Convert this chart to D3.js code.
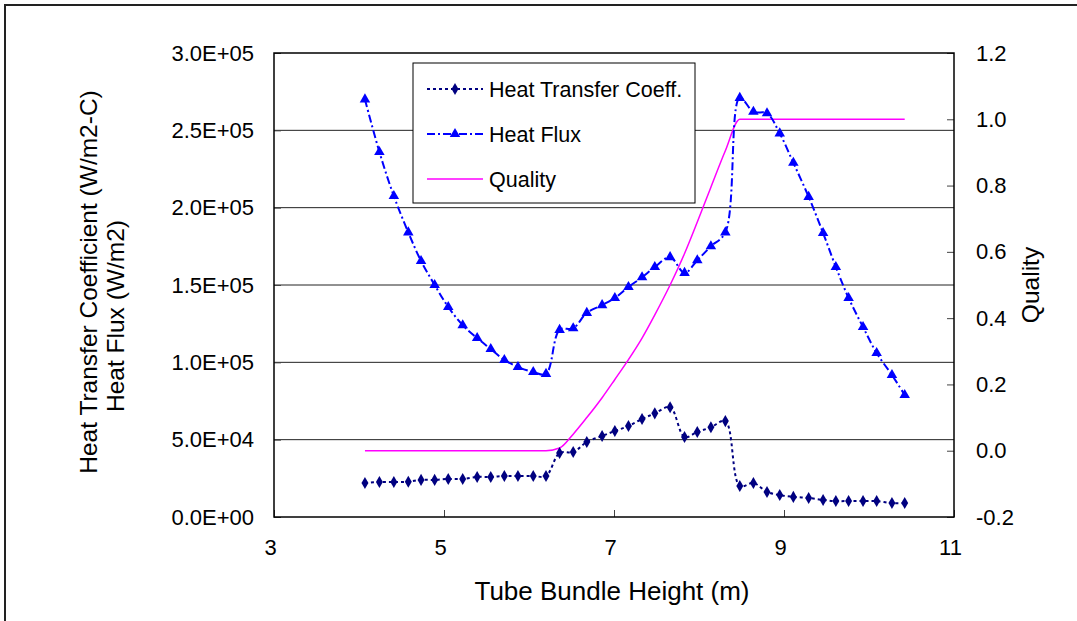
<!DOCTYPE html>
<html>
<head>
<meta charset="utf-8">
<script src="https://cdn.jsdelivr.net/npm/d3@7"></script>
<style>
  html, body { margin: 0; padding: 0; background: #fff; }
  svg { display: block; font-family: "Liberation Sans", Arial, sans-serif; }
</style>
</head>
<body>
<svg id="chart" width="1077" height="621"></svg>
<script>
// tube bundle height (m), shared by all three series
const heights = [4.07, 4.24, 4.41, 4.58, 4.73, 4.89, 5.05, 5.22, 5.39, 5.55,
  5.71, 5.87, 6.05, 6.20, 6.36, 6.52, 6.68, 6.86, 7.01, 7.17,
  7.33, 7.48, 7.66, 7.83, 7.98, 8.14, 8.31, 8.48, 8.64, 8.80,
  8.95, 9.11, 9.29, 9.46, 9.61, 9.76, 9.93, 10.09, 10.27, 10.42];

const htc = [22000, 22600, 22600, 22800, 24000, 24000, 24600, 24600, 25900, 25900,
  26500, 26500, 26500, 26500, 41400, 42000, 48500, 52400, 55600, 58800,
  63400, 67000, 71000, 51700, 55000, 58000, 62000, 20000, 22000, 16200,
  14200, 13000, 12300, 11000, 10300, 10300, 10300, 10300, 9000, 9000];

const heatFlux = [270000, 236000, 207500, 184000, 165500, 150000, 135800, 124000, 115700, 108600,
  101500, 97000, 93700, 92500, 121000, 122000, 132000, 137000, 141600, 148700,
  155000, 161600, 168000, 157800, 166000, 175000, 184000, 271000, 262000, 261000,
  248000, 229000, 207000, 183600, 161600, 141600, 122800, 106000, 91800, 78900];

const quality = [0, 0, 0, 0, 0, 0, 0, 0, 0, 0,
  0, 0, 0, 0, 0.008, 0.05, 0.1, 0.16, 0.215, 0.275,
  0.34, 0.41, 0.5, 0.595, 0.69, 0.795, 0.905, 1, 1, 1,
  1, 1, 1, 1, 1, 1, 1, 1, 1, 1];

const xTicks = [3, 5, 7, 9, 11];
const leftTicks = [0, 50000, 100000, 150000, 200000, 250000, 300000];
const rightTicks = [-0.2, 0, 0.2, 0.4, 0.6, 0.8, 1.0, 1.2];
const legendNames = ["Heat Transfer Coeff.", "Heat Flux", "Quality"];

const svg = d3.select("#chart");
const plot = {left: 274, right: 954, top: 53, bottom: 517};

const x = d3.scaleLinear().domain([3, 11]).range([plot.left, plot.right]);
const yL = d3.scaleLinear().domain([0, 300000]).range([plot.bottom, plot.top]);
const yR = d3.scaleLinear().domain([-0.2, 1.2]).range([plot.bottom, plot.top]);

// outer chart frame
svg.append("rect")
  .attr("x", 5).attr("y", 5)
  .attr("width", 1200).attr("height", 800)
  .attr("fill", "none").attr("stroke", "#222").attr("stroke-width", 2);

function sci(v) {
  let [m, e] = v.toExponential(1).split("e");
  return m + "E" + (e[0] === "-" ? "-" : "+") + String(Math.abs(+e)).padStart(2, "0");
}

// grid lines
svg.append("g")
  .selectAll("line")
  .data(leftTicks.slice(1, -1))
  .join("line")
    .attr("x1", plot.left).attr("x2", plot.right)
    .attr("y1", d => yL(d)).attr("y2", d => yL(d))
    .attr("stroke", "#222").attr("stroke-width", 1);

// axes
const axisFont = g => g.selectAll("text")
  .attr("font-size", 22).attr("fill", "#000")
  .attr("font-family", "'Liberation Sans', Arial, sans-serif");

svg.append("g")
  .attr("transform", `translate(${plot.left},0)`)
  .call(d3.axisLeft(yL).tickValues(leftTicks).tickFormat(sci).tickSize(-7).tickPadding(20))
  .call(g => g.select(".domain").remove())
  .call(g => g.selectAll(".tick line").attr("stroke", "#444"))
  .call(axisFont);

svg.append("g")
  .attr("transform", `translate(${plot.right},0)`)
  .call(d3.axisRight(yR).tickValues(rightTicks).tickFormat(d => d.toFixed(1)).tickSize(-7).tickPadding(22))
  .call(g => g.select(".domain").remove())
  .call(g => g.selectAll(".tick line").attr("stroke", "#444"))
  .call(axisFont);

svg.append("g")
  .attr("transform", `translate(0,${plot.bottom})`)
  .call(d3.axisBottom(x).tickValues(xTicks).tickFormat(d3.format("d")).tickSize(-7).tickPadding(22))
  .call(g => g.select(".domain").remove())
  .call(g => g.selectAll(".tick line").attr("stroke", "#444"))
  .call(g => g.selectAll(".tick text").attr("dx", -4))
  .call(axisFont);

// plot box
svg.append("rect")
  .attr("x", plot.left).attr("y", plot.top)
  .attr("width", plot.right - plot.left).attr("height", plot.bottom - plot.top)
  .attr("fill", "none").attr("stroke", "#000").attr("stroke-width", 1.5);

// series
const rows = heights.map((h, i) => ({h, htc: htc[i], flux: heatFlux[i], q: quality[i]}));

const qLine = d3.line().x(d => x(d.h)).y(d => yR(d.q)).curve(d3.curveMonotoneX);
svg.append("path")
  .attr("d", qLine(rows))
  .attr("fill", "none").attr("stroke", "#ff00ff").attr("stroke-width", 1.5);

const fluxLine = d3.line().x(d => x(d.h)).y(d => yL(d.flux)).curve(d3.curveCatmullRom.alpha(0.5));
svg.append("path")
  .attr("d", fluxLine(rows))
  .attr("fill", "none").attr("stroke", "#0000ff").attr("stroke-width", 2)
  .attr("stroke-dasharray", "8,3,2,3");

const htcLine = d3.line().x(d => x(d.h)).y(d => yL(d.htc)).curve(d3.curveCatmullRom.alpha(0.5));
svg.append("path")
  .attr("d", htcLine(rows))
  .attr("fill", "none").attr("stroke", "#000080").attr("stroke-width", 2)
  .attr("stroke-dasharray", "3,3");

const diamond = d3.symbol(d3.symbolDiamond, 42);
const triangle = d3.symbol(d3.symbolTriangle, 48);

svg.append("g").selectAll("path")
  .data(rows)
  .join("path")
    .attr("transform", d => `translate(${x(d.h)},${yL(d.flux)})`)
    .attr("d", triangle)
    .attr("fill", "#0000ff");

svg.append("g").selectAll("path")
  .data(rows)
  .join("path")
    .attr("transform", d => `translate(${x(d.h)},${yL(d.htc)})`)
    .attr("d", diamond)
    .attr("fill", "#000080");

// legend
const legend = svg.append("g").attr("transform", "translate(413,63)");
legend.append("rect")
  .attr("width", 282).attr("height", 140)
  .attr("fill", "#fff").attr("stroke", "#000").attr("stroke-width", 1);

const legendStyle = [
  {stroke: "#000080", dash: "3,3", width: 2, mark: diamond},
  {stroke: "#0000ff", dash: "8,3,2,3", width: 2, mark: triangle},
  {stroke: "#ff00ff", dash: null, width: 1.5, mark: null}
];

legendNames.forEach((name, i) => {
  const yy = 26 + i * 45;
  const s = legendStyle[i];
  legend.append("line")
    .attr("x1", 14).attr("x2", 70).attr("y1", yy).attr("y2", yy)
    .attr("stroke", s.stroke).attr("stroke-width", s.width)
    .attr("stroke-dasharray", s.dash);
  if (s.mark) {
    legend.append("path")
      .attr("transform", `translate(42,${yy})`)
      .attr("d", s.mark)
      .attr("fill", s.stroke);
  }
  legend.append("text")
    .attr("x", 76).attr("y", yy).attr("dy", "0.36em")
    .attr("font-size", 21.5)
    .text(name);
});

// axis titles
svg.append("text")
  .attr("transform", "translate(97,282) rotate(-90)")
  .attr("text-anchor", "middle")
  .attr("font-size", 24.5)
  .text("Heat Transfer Coefficient (W/m2-C)");

svg.append("text")
  .attr("transform", "translate(124,316) rotate(-90)")
  .attr("text-anchor", "middle")
  .attr("font-size", 24.5)
  .text("Heat Flux (W/m2)");

svg.append("text")
  .attr("transform", "translate(1039,285) rotate(-90)")
  .attr("text-anchor", "middle")
  .attr("font-size", 24.5)
  .text("Quality");

svg.append("text")
  .attr("x", 612).attr("y", 600)
  .attr("text-anchor", "middle")
  .attr("font-size", 26)
  .text("Tube Bundle Height (m)");
</script>
</body>
</html>
